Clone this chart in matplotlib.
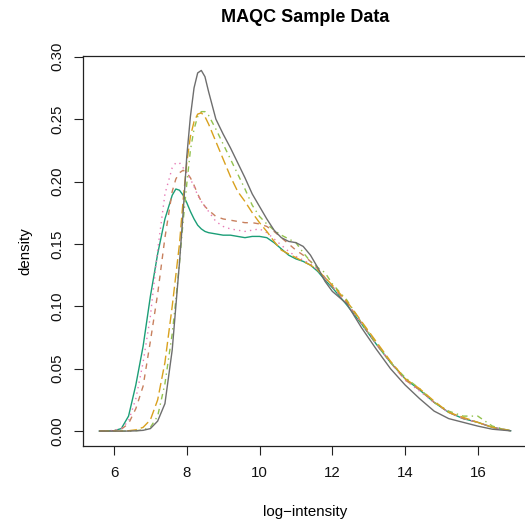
import matplotlib
matplotlib.use("Agg")
import matplotlib.pyplot as plt

plt.rcParams['font.family'] = ['Liberation Sans', 'DejaVu Sans']

# --- data (density vs log-intensity) ---
x = [5.6, 6.0, 6.2, 6.4, 6.6, 6.8, 7.0, 7.2, 7.4, 7.6, 7.7, 7.8, 7.9, 8.0, 8.1,
     8.2, 8.3, 8.4, 8.5, 8.6, 8.8, 9.0, 9.2, 9.4, 9.6, 9.8, 10.0, 10.2, 10.4,
     10.6, 10.8, 11.0, 11.2, 11.4, 11.6, 11.8, 12.0, 12.4, 12.8, 13.2, 13.6,
     14.0, 14.4, 14.8, 15.2, 15.6, 16.0, 16.4, 16.9]

s_green = [0, 0.0003, 0.002, 0.012, 0.037, 0.068, 0.108, 0.142, 0.170, 0.189,
           0.194, 0.193, 0.189, 0.183, 0.176, 0.170, 0.165, 0.162, 0.160, 0.159,
           0.158, 0.157, 0.157, 0.156, 0.155, 0.156, 0.156, 0.155, 0.151, 0.146,
           0.141, 0.138, 0.136, 0.133, 0.128, 0.121, 0.115, 0.101, 0.086, 0.070,
           0.055, 0.042, 0.033, 0.023, 0.015, 0.010, 0.007, 0.003, 0.0003]

s_brown = [0, 0.0003, 0.0015, 0.006, 0.018, 0.036, 0.072, 0.110, 0.155, 0.192,
           0.202, 0.207, 0.209, 0.207, 0.203, 0.197, 0.190, 0.184, 0.180, 0.177,
           0.172, 0.170, 0.169, 0.168, 0.167, 0.167, 0.166, 0.164, 0.160, 0.155,
           0.150, 0.145, 0.141, 0.136, 0.130, 0.123, 0.116, 0.103, 0.087, 0.070,
           0.055, 0.041, 0.033, 0.023, 0.015, 0.010, 0.007, 0.003, 0.0003]

s_pink = [0, 0.0005, 0.002, 0.008, 0.026, 0.055, 0.092, 0.145, 0.190, 0.211,
          0.215, 0.215, 0.211, 0.207, 0.202, 0.196, 0.189, 0.184, 0.180, 0.176,
          0.168, 0.164, 0.162, 0.161, 0.160, 0.161, 0.162, 0.159, 0.154, 0.149,
          0.144, 0.140, 0.137, 0.134, 0.129, 0.122, 0.116, 0.102, 0.086, 0.070,
          0.055, 0.041, 0.032, 0.023, 0.015, 0.010, 0.007, 0.003, 0.0003]

s_lime = [0, 0, 0, 0, 0.0003, 0.001, 0.003, 0.012, 0.038, 0.078,
          0.105, 0.135, 0.168, 0.198, 0.225, 0.242, 0.252, 0.256, 0.256, 0.253,
          0.242, 0.230, 0.218, 0.206, 0.194, 0.181, 0.172, 0.166, 0.161, 0.157,
          0.154, 0.151, 0.143, 0.136, 0.131, 0.127, 0.118, 0.105, 0.087, 0.071,
          0.055, 0.043, 0.034, 0.023, 0.016, 0.012, 0.012, 0.004, 0.0002]

s_gold = [0, 0, 0, 0.0003, 0.001, 0.003, 0.009, 0.025, 0.055, 0.100,
          0.125, 0.150, 0.185, 0.215, 0.236, 0.248, 0.254, 0.255, 0.252, 0.246,
          0.232, 0.218, 0.204, 0.192, 0.184, 0.175, 0.167, 0.160, 0.152, 0.145,
          0.142, 0.139, 0.136, 0.133, 0.129, 0.123, 0.117, 0.104, 0.088, 0.072,
          0.056, 0.042, 0.034, 0.024, 0.015, 0.011, 0.007, 0.003, 0.0003]

s_gray = [0, 0, 0, 0, 0.0002, 0.0006, 0.002, 0.008, 0.022, 0.065,
          0.100, 0.135, 0.175, 0.220, 0.252, 0.275, 0.287, 0.289, 0.284, 0.272,
          0.250, 0.238, 0.227, 0.215, 0.203, 0.190, 0.180, 0.170, 0.161, 0.155,
          0.152, 0.151, 0.148, 0.141, 0.131, 0.120, 0.112, 0.102, 0.083, 0.066,
          0.050, 0.037, 0.026, 0.016, 0.010, 0.007, 0.004, 0.0015, 0.0002]

series = [s_green, s_brown, s_pink, s_lime, s_gold, s_gray]
colors = ['#1B9E77', '#C8805E', '#E77BB6', '#93C24E', '#D9A11E', '#6E6E6E']
styles = ['-', (0, (4, 4)), (0, (1, 3)), (0, (1, 3, 4, 3)), (0, (7, 3)), '-']

xticks = [6, 8, 10, 12, 14, 16]
yticks = [0.00, 0.05, 0.10, 0.15, 0.20, 0.25, 0.30]

# --- plotting ---
fig = plt.figure(figsize=(5.25, 5.25), dpi=100)
ax = fig.add_axes([0.1581, 0.1514, 0.8457, 0.7419])

for s, c, ls in zip(series, colors, styles):
    ax.plot(x, s, color=c, linestyle=ls, linewidth=1.0)

# R-style 4% padding around the data range
xmin, xmax = min(x), max(x)
ymax = max(max(s) for s in series)
ax.set_xlim(xmin - 0.04 * (xmax - xmin), xmax + 0.04 * (xmax - xmin))
ax.set_ylim(-0.04 * ymax, ymax * 1.04)

ax.set_xticks(xticks)
ax.set_yticks(yticks)
ax.set_yticklabels([f'{v:.2f}' for v in yticks], rotation=90, va='center')
ax.tick_params(direction='out', length=6.5, width=0.8, color='#222222',
               labelsize=10.8, labelcolor='#111111')
ax.tick_params(axis='x', pad=8)
ax.tick_params(axis='y', pad=7)
for sp in ax.spines.values():
    sp.set_color('#222222')
    sp.set_linewidth(0.9)

fig.text(0.581, 0.966, 'MAQC Sample Data', ha='center', va='center',
         fontsize=13, fontweight='bold')
fig.text(0.581, 0.0248, 'log\u2212intensity', ha='center', va='center',
         fontsize=10.8)
fig.text(0.0476, 0.5225, 'density', ha='center', va='center', rotation=90,
         fontsize=10.8)

fig.savefig('out.png', dpi=100)
